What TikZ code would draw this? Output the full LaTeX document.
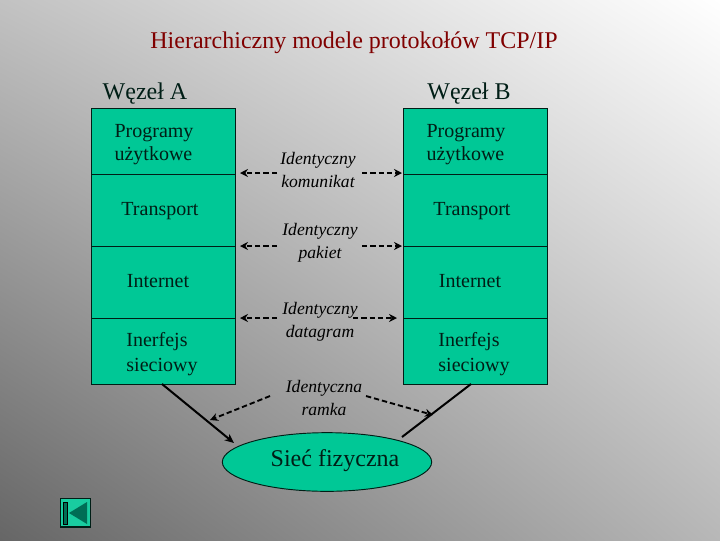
\documentclass[tikz,border=0pt]{standalone}
\usepackage{fontspec}
\setmainfont{Liberation Serif}
\usetikzlibrary{arrows.meta,shadings,shapes.geometric}
\definecolor{warstwa}{RGB}{0,200,150}
\definecolor{ciemny}{RGB}{0,110,85}
\tikzset{
	warstwa/.style={draw=black!85!warstwa, fill=warstwa, line width=0.7pt, minimum width=108pt, inner sep=0pt},
	napis/.style={font=\fontsize{15}{17.25}\selectfont, text=black!85!warstwa, align=left, inner sep=0pt},
	duzy/.style={font=\fontsize{18}{21}\selectfont},
	opis/.style={font=\fontsize{13.2}{17.25}\selectfont\itshape, align=center, inner sep=0pt},
	kreska/.style={dash pattern=on 4pt off 2.2pt, line width=1.4pt, -{Stealth[length=6pt,width=6pt]}},
	linia/.style={line width=1.5pt, -{Stealth[length=7pt,width=6pt]}},
}
\begin{document}
\begin{tikzpicture}[x=0.75pt, y=-0.75pt]
	\useasboundingbox (0,0) rectangle (720,540);
	\shade[lower left=black!60, upper right=white, lower right=black!28, upper left=black!24] (0,0) rectangle (720,540);
	\node[napis, duzy, text=red!50!black] (tytul) at (354,43) {Hierarchiczny modele protokołów TCP/IP};
	\node[napis, duzy] (wezelA) at (145,94) {Węzeł A};
	\node[napis, duzy] (wezelB) at (469,94) {Węzeł B};
	% warstwy
	\node[warstwa, minimum height=49.5pt] (progA) at (163,141) {};
	\node[warstwa, minimum height=54pt] (tranA) at (163,210) {};
	\node[warstwa, minimum height=54pt] (intA) at (163,282) {};
	\node[warstwa, minimum height=49.5pt] (sieA) at (163,351) {};
	\node[warstwa, minimum height=49.5pt] (progB) at (475,141) {};
	\node[warstwa, minimum height=54pt] (tranB) at (475,210) {};
	\node[warstwa, minimum height=54pt] (intB) at (475,282) {};
	\node[warstwa, minimum height=49.5pt] (sieB) at (475,351) {};
	\node[napis] at (154,145) {Programy\\użytkowe};
	\node[napis] at (160,211) {Transport};
	\node[napis] at (158,281) {Internet};
	\node[napis, font=\fontsize{15}{18.5}\selectfont] at (162,354) {Inerfejs\\sieciowy};
	\node[napis] at (466,145) {Programy\\użytkowe};
	\node[napis] at (472,211) {Transport};
	\node[napis] at (470,281) {Internet};
	\node[napis, font=\fontsize{15}{18.5}\selectfont] at (474,354) {Inerfejs\\sieciowy};
	% opisy
	\node[opis] (komunikat) at (318,170) {Identyczny\\komunikat};
	\node[opis] (pakiet) at (320,243) {Identyczny\\pakiet};
	\node[opis] (datagram) at (320,322) {Identyczny\\datagram};
	\node[opis] (ramka) at (324,398) {Identyczna\\ramka};
	\node[warstwa, ellipse, minimum width=157pt, minimum height=44pt] (siec) at (327,462) {};
	\node[napis, duzy] (siecopis) at (335,461) {Sieć fizyczna};
	% strzalki
	\foreach \y/\nazwa in {173/kom, 246/pak}{
		\coordinate (\nazwa L1) at (277,\y);
		\coordinate (\nazwa L2) at (240,\y);
		\coordinate (\nazwa P1) at (362,\y);
		\coordinate (\nazwa P2) at (402,\y);
		\draw[kreska] (\nazwa L1) -- (\nazwa L2);
		\draw[kreska] (\nazwa P1) -- (\nazwa P2);
	}
	\coordinate (datL1) at (277,318);
	\coordinate (datL2) at (240,318);
	\coordinate (datP1) at (353,318);
	\coordinate (datP2) at (397,318);
	\draw[kreska] (datL1) -- (datL2);
	\draw[kreska] (datP1) -- (datP2);
	\coordinate (ramL1) at (270,396);
	\coordinate (ramL2) at (210,420);
	\coordinate (ramP1) at (366,396);
	\coordinate (ramP2) at (433,415);
	\draw[kreska] (ramL1) -- (ramL2);
	\draw[kreska] (ramP1) -- (ramP2);
	\coordinate (fizA) at (162,384);
	\coordinate (fizAk) at (234,443);
	\coordinate (fizB) at (402,437);
	\coordinate (fizBk) at (471,384);
	\draw[linia] (fizA) -- (fizAk);
	\draw[line width=1.5pt] (fizB) -- (fizBk);
	% przycisk
	\node[warstwa, fill=warstwa!90!white, line width=1pt, minimum width=22.5pt, minimum height=21.5pt] (przycisk) at (75.5,512.5) {};
	\fill[ciemny] (87,502) -- (87,524) -- (69,513) -- cycle;
	\draw[fill=ciemny, line width=0.4pt] (63.5,502) rectangle (67,524);
\end{tikzpicture}
\end{document}
